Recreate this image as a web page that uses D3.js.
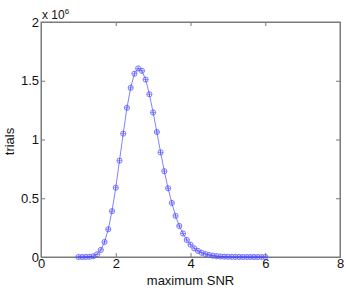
<!DOCTYPE html>
<html>
<head>
<meta charset="utf-8">
<script src="https://cdn.jsdelivr.net/npm/d3@7"></script>
<style>
  body { margin: 0; background: #fff; }
  text { font-family: "Liberation Sans", Arial, sans-serif; fill: #111; }
</style>
</head>
<body>
<svg width="346" height="290"></svg>
<script>
// max SNR bins (step 0.1) and trial counts in units of 1e6
var snr = [1.0,1.1,1.2,1.3,1.4,1.5,1.6,1.7,1.8,1.9,2.0,2.1,2.2,2.3,2.4,2.5,2.6,2.7,2.8,2.9,
  3.0,3.1,3.2,3.3,3.4,3.5,3.6,3.7,3.8,3.9,4.0,4.1,4.2,4.3,4.4,4.5,4.6,4.7,4.8,4.9,
  5.0,5.1,5.2,5.3,5.4,5.5,5.6,5.7,5.8,5.9,6.0];
var trials = [0,0,0.001,0.002,0.006,0.023,0.06,0.128,0.236,0.39,0.59,0.82,1.05,1.27,1.44,1.56,1.605,1.585,1.51,1.385,
  1.23,1.064,0.89,0.73,0.585,0.46,0.35,0.264,0.2,0.145,0.105,0.074,0.052,0.036,0.025,0.017,0.011,0.007,0.0045,0.003,
  0.002,0.001,0.0008,0.0005,0.0003,0.0002,0.0001,0,0,0,0];
var xTicks = [0, 2, 4, 6, 8];
var yTicks = [0, 0.5, 1, 1.5, 2];

var svg = d3.select('svg');
var pLeft = 41, pRight = 340, pTop = 22, pBottom = 257;

var x = d3.scaleLinear().domain([0, 8]).range([pLeft, pRight]);
var y = d3.scaleLinear().domain([0, 2]).range([pBottom, pTop]);

var axisColor = '#7a7a7a';

// box
svg.append('rect')
  .attr('x', pLeft).attr('y', pTop)
  .attr('width', pRight - pLeft).attr('height', pBottom - pTop)
  .attr('fill', 'none').attr('stroke', axisColor).attr('stroke-width', 1);

var xAxis = d3.axisBottom(x).tickValues(xTicks).tickSize(-4).tickPadding(2).tickFormat(d3.format('d'));
svg.append('g').attr('transform', 'translate(0,' + pBottom + ')').call(xAxis);
var yAxis = d3.axisLeft(y).tickValues(yTicks).tickSize(-4).tickPadding(2).tickFormat(function(d){ return d; });
svg.append('g').attr('transform', 'translate(' + pLeft + ',0)').call(yAxis);

// top/right ticks like MATLAB box
svg.append('g').attr('transform', 'translate(0,' + pTop + ')')
  .call(d3.axisTop(x).tickValues(xTicks).tickSize(-4).tickFormat(''));
svg.append('g').attr('transform', 'translate(' + pRight + ',0)')
  .call(d3.axisRight(y).tickValues(yTicks).tickSize(-4).tickFormat(''));

svg.selectAll('.domain').attr('stroke', axisColor);
svg.selectAll('.tick line').attr('stroke', axisColor);
svg.selectAll('.tick text').style('font-size', '13px').attr('fill', '#111');

// exponent label
var ex = svg.append('text').attr('x', pLeft + 1).attr('y', pTop - 3).style('font-size', '12px');
ex.append('tspan').text('x 10');
ex.append('tspan').attr('dy', -5).style('font-size', '8px').text('6');

svg.append('text').attr('x', (pLeft + pRight) / 2).attr('y', 285)
  .attr('text-anchor', 'middle').style('font-size', '13px').text('maximum SNR');
svg.append('text').attr('transform', 'translate(14,' + ((pTop + pBottom) / 2 + 2) + ')rotate(-90)')
  .attr('text-anchor', 'middle').style('font-size', '13px').text('trials');

// line and markers
var line = d3.line().x(function(d, i){ return x(snr[i]); }).y(function(d){ return y(d); });
var blue = '#5b5bff';
svg.append('path').datum(trials).attr('d', line)
  .attr('fill', 'none').attr('stroke', blue).attr('stroke-width', 0.9).attr('opacity', 0.85);

var m = svg.selectAll('.mk').data(trials).enter().append('g')
  .attr('transform', function(d, i){ return 'translate(' + x(snr[i]) + ',' + y(d) + ')'; });
m.append('circle').attr('r', 2.6).attr('fill', 'none').attr('stroke', blue).attr('stroke-width', 0.9).attr('opacity', 0.85);
m.append('path').attr('d', 'M-2.4,0H2.4M0,-2.4V2.4').attr('stroke', '#3a3aff').attr('stroke-width', 0.8).attr('opacity', 0.7);
</script>
</body>
</html>
